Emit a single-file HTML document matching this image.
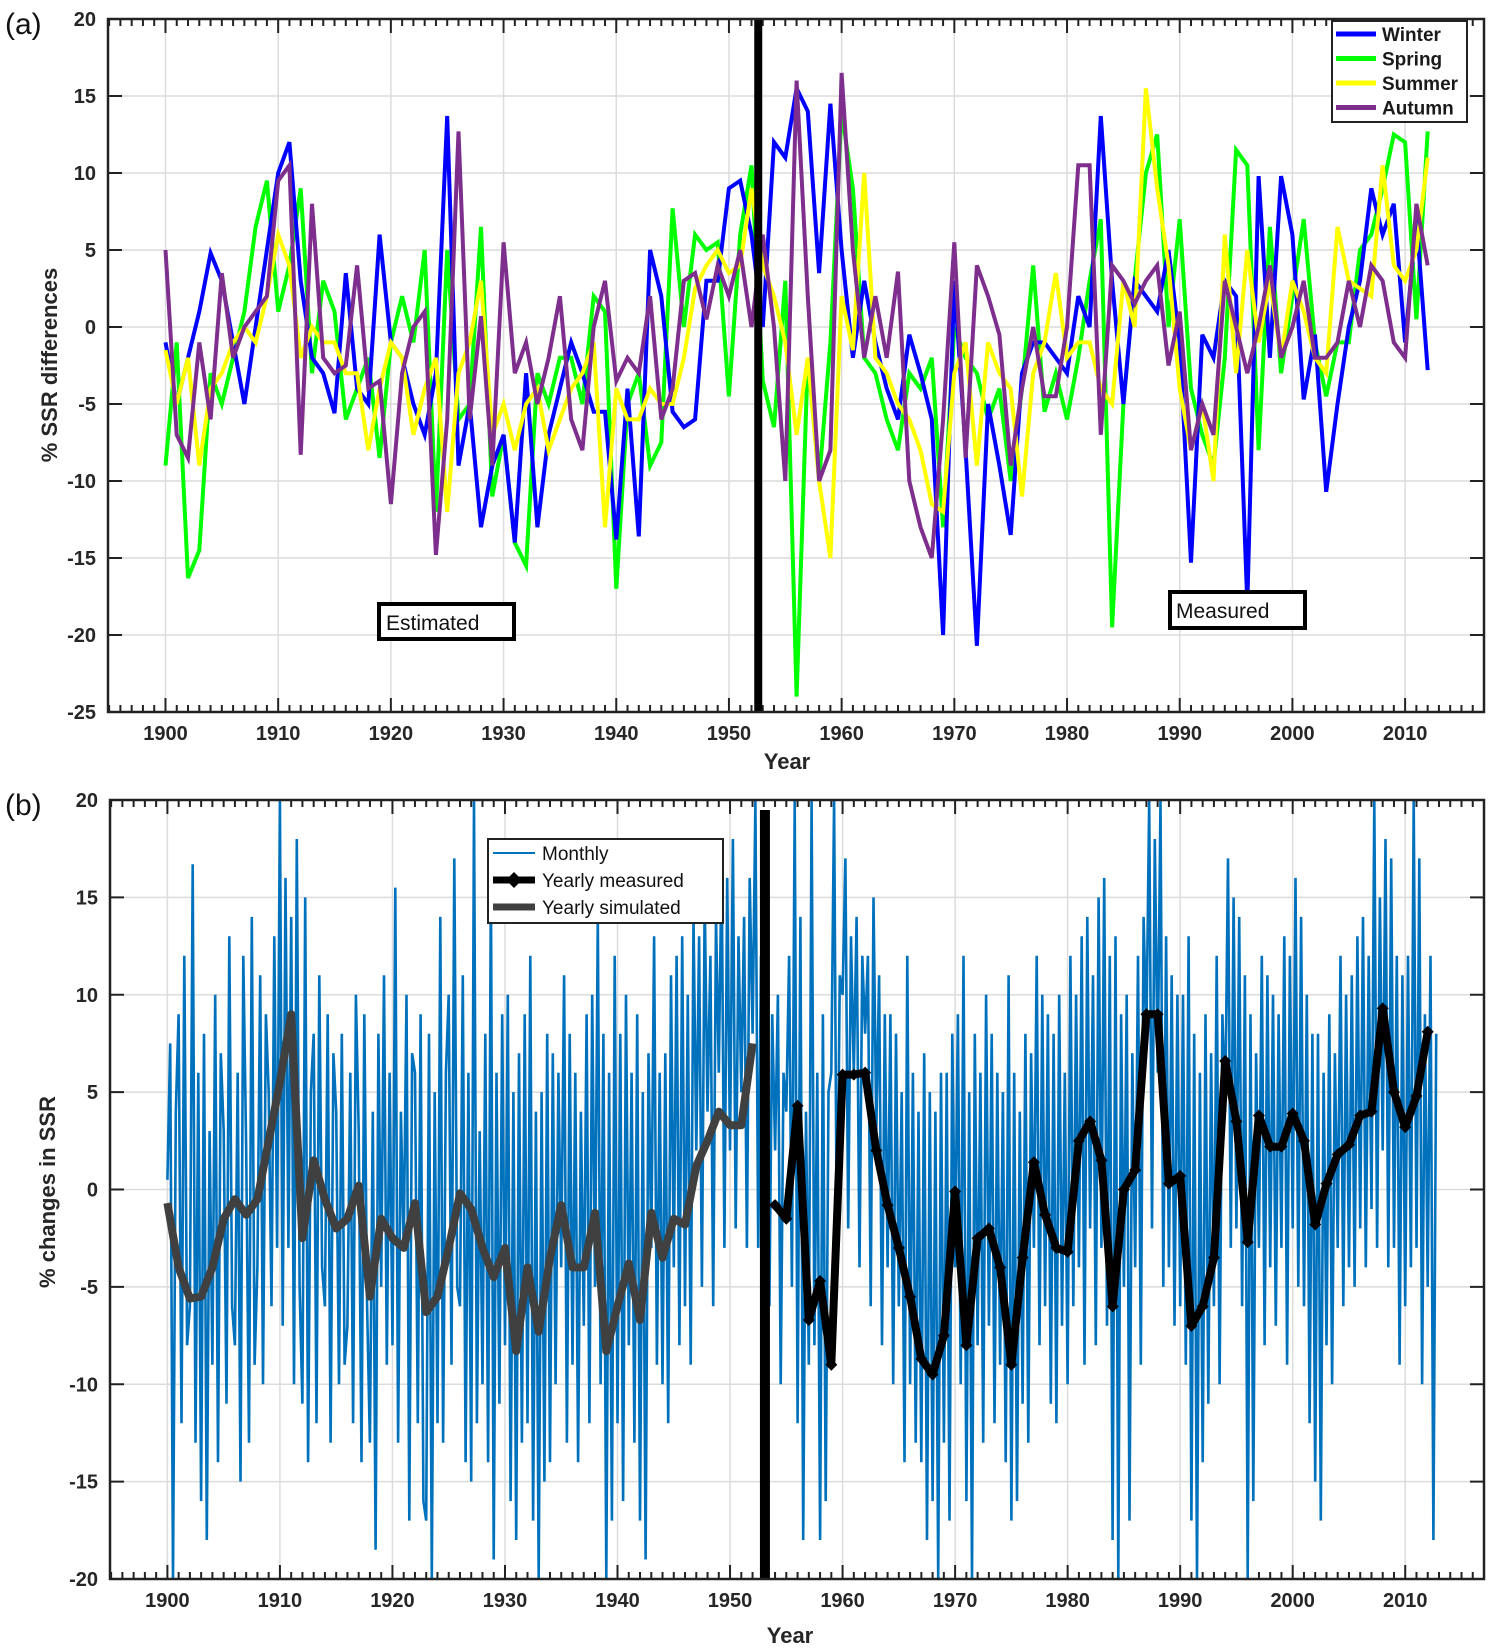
<!DOCTYPE html>
<html><head><meta charset="utf-8"><style>
body{margin:0;background:#fff}
svg{display:block;font-family:"Liberation Sans",Arial,sans-serif}
</style></head><body>
<svg id="c" width="1492" height="1648" viewBox="0 0 1492 1648"></svg>
<script>
// ---------- data ----------
const seasonYears0 = 1900;
const winter = [-1,-5,-2,1,4.8,3,-1,-5,0,5, 10,12,3,-2,-3,-5.6,3.5,-4,-5,6, -1,-2,-5,-7,-3,13.7,-9,-5,-13,-9, -7,-14,-3,-13,-7,-4,-1,-3,-5.5,-5.5, -13.8,-4,-13.6,5,2,-5.5,-6.5,-6,3,3, 9,9.5,6,0,12,11,15.5,14,3.5,14.5, 5,-2,3,-1,-4,-6,-0.5,-3,-6,-20, 3,-8,-20.7,-5,-9,-13.5,-3,-1,-1,-2, -3,2,0,13.7,3,-5,3,2,1,5, -1,-15.3,-0.5,-2,3,2,-18,9.8,-2,9.8, 6,-4.7,-0.5,-10.7,-5,0,3,9,6,8, -1,7,-2.8];
const spring = [-9,-1,-16.3,-14.5,-3,-5,-2,1,6.5,9.5, 1,4,9,-3,3,1,-6,-4,-2,-8.5, -1,2,-1,5,-12,5,-6,-5,6.5,-11, -7,-14,-15.5,-3,-5,-2,-2,-5,2,1, -17,-5,-3,-9,-7.5,7.7,0,6,5,5.5, -4.5,6,10.5,-3.5,-6.5,3,-24,-2,-10,-1, 14,9,-2,-3,-6,-8,-3,-4,-2,-13, 0,-2,-3,-6,-4,-10,-4,4,-5.5,-3, -6,-2,3,7,-19.5,-5,3,10,12.5,0, 7,-4,-7,-9,-2,11.5,10.5,-8,6.5,-3, 2,7,-1,-4.5,-1,-1,5,6,9,12.5, 12,0.5,12.7];
const summer = [-1.5,-5,-2,-9,-4,-3,-1,0,-1,2, 6,4,-2,0,-1,-1,-3,-3,-8,-4, -1,-2,-7,-4,-2,-12,-3,-1,3,-7, -5,-8,-5,-4,-8,-6,-4,-3,-1,-13, -4,-6,-6,-4,-5,-5,-2,2.5,4,5, 3.5,4,9,4,2,-1,-7,-2,-10,-15, 2,-1.5,10,-2,-3,-5,-6,-8,-11.5,-12, -3,-1,-9,-1,-3,-4,-11,-3,-1,3.5, -2,-1,-1,-4,-5,3,0,15.5,9,4, -4,-8,-5,-10,6,-3,5,-1,3,-2, 3,1,-2,-3,6.5,3,2.5,2,10.5,4, 3,5,11];
const autumn = [5,-7,-8.5,-1,-6,3.5,-2,0,1,2, 9.5,10.5,-8.3,8,-2,-3,-2.5,4,-4,-3.5, -11.5,-3,0,1,-14.8,-6,12.7,-6,0.7,-9, 5.5,-3,-1,-5,-2,2,-6,-8,0,3, -3.5,-2,-3,2,-6,-4,3,3.5,0.5,4, 2,5,0,6,0,-10,16,2,-10,-8, 16.5,5,-2,2,-2,3.6,-10,-13,-15,-6, 5.5,-8.5,4,2,-0.5,-9,-4,0,-4.5,-4.5, 0,10.5,10.5,-7,4,3,1.5,3,4,-2.5, 1,-8,-5,-7,3,0,-3,0,4,-2, 0,3,-2,-2,-1,3,0,4,3,-1, -2,8,4];
const simYears0 = 1900;
const yearlySim = [-0.7,-4,-5.6,-5.5,-4,-1.5,-0.5,-1.3,-0.5,2.5, 5.5,9,-2.5,1.5,-0.5,-2,-1.5,0.2,-5.5,-1.5, -2.5,-3,-0.7,-6.3,-5.5,-3,-0.2,-1,-3,-4.5, -3,-8.3,-4,-7.3,-3.5,-0.8,-4,-4,-1.2,-8.3, -6,-3.8,-6.7,-1.2,-3.5,-1.5,-1.8,1.2,2.5,4, 3.3,3.3,7.5];
const measYears0 = 1954;
const yearlyMeas = [-0.8,-1.5,4.3,-6.7,-4.7,-9, 5.9,5.9,6,2,-0.8,-3,-5.5,-8.7,-9.5,-7.5, -0.1,-8,-2.5,-2,-4,-9,-3.5,1.4,-1.3,-3, -3.2,2.5,3.5,1.5,-6,0,1,9,9,0.3, 0.7,-7,-6,-3.5,6.6,3.5,-2.7,3.8,2.2,2.2, 3.9,2.5,-1.8,0.3,1.8,2.3,3.8,4,9.3,5, 3.2,4.8,8.1];
const monthlyStart = 1900, monthlyPerYear = 4;
const monthly = [
0.5,7.5,-20,4, 9,-12,12,-8, -6,16.7,-13,6, -16,8,-18,3, -9,10,-14,7, 3,-11,13,-6, -8,6,-15,12, 2,-13,14,-9, -4,11,-10,9, 5,-6,13,-3,
20,-7,16,-3, 14,-10,18,-5, -11,15,-14,5, 8,-12,11,-4, -6,9,-13,7, 4,-10,8,-9, -7,6,-12,10, 3,-14,9,-6, -13,4,-18.5,8, -5,11,-9,6,
-8,15.5,-13,4, -3,10,-17,7, 6,-12,9,-16, -17,8,-20,5, -12,14,-13,6, 10,-9,17,-5, -6,11,-14,6, -15,20,-12,3, -10,8,-14,16, -19,6,-11,9,
-8,10,-16,5, -18,7,-13,9, -12,12,-17,4, -20,5,-15,8, -14,7,-10,6, -4,11,-13,8, -9,6,-14,4, -7,9,-12,10, -5,14,-10,8, -20,6,-17,12,
-12,8,-16,10, -8,6,-13,9, -17,5,-19,7, -3,13,-9,6, -10,7,-12,11, -4,12,-8,13, -6,10,-9,14, 2,13,-5,15, 4,12,-6,14, 6,17,-3,16,
2,18,-2,13, 5,14,-3,16, 8,20,-3,12, 5,11,-6,9, 2,10,-10,6, 4,12,-5,20, -12,14,-18,4, -9,20,-8,6, -18,9,-16,5, 6,20,-4,11,
10,17,-2,13, 6,14,-4,12, 8,12,-6,15, 3,11,-8,9, -4,9,-10,8, -6,5,-14,12, -10,6,-13,4, -14,7,-18,5, -16,4,-20,6, -13,6,-17,8,
-4,9,-10,12, -16,5,-20,8, -8,6,-13,10, -7,8,-12,6, -9,5,-14,11, -17,6,-16,4, -11,8,-13,7, -3,12,-8,10, -6,9,-11,8, -12,10,-7,6,
-10,12,-6,10, -4,13,-9,14, -2,11,-8,15, -3,16,-7,12, -18,13,-20,9, -5,10,-17,7, -4,12,-9,14, 8,20,-2,18, 6,20,-5,13, -4,11,-7,10,
-6,10,-9,13, -17,8,-20,6, -14,9,-11,7, -6,12,-10,9, 4,17,-3,15, -2,14,-6,11, -20,9,-16,7, -3,12,-8,11, -4,10,-7,9, -3,13,-9,12,
-2,16,-5,14, -6,10,-12,8, -15,8,-17,6, -8,9,-10,7, -3,12,-6,10, -4,11,-5,13, -2,14,-4,12, -1,20,-3,15, 2,18,-4,17, -3,12,-9,11,
-6,12,-4,20, -3,17,-10,9, -5,12,-18,8
];
// ---------- helpers ----------
const svg=document.getElementById('c');
const NS='http://www.w3.org/2000/svg';
function mk(tag,attrs,parent){const e=document.createElementNS(NS,tag);for(const k in attrs)e.setAttribute(k,attrs[k]);(parent||svg).appendChild(e);return e;}
function txt(s,attrs,parent){const e=mk('text',attrs,parent);e.textContent=s;return e;}

function makeAxes(P,name){
  const g=mk('g',{});
  
  
  const X=y=>P.l+(y-P.x0)/(P.x1-P.x0)*(P.r-P.l);
  const Y=v=>P.b-(v-P.y0)/(P.y1-P.y0)*(P.b-P.t);
  for(let yr=1900;yr<=2010;yr+=10){mk('line',{x1:X(yr),x2:X(yr),y1:P.t,y2:P.b,stroke:'#dcdcdc','stroke-width':1.5},g);}
  for(let v=P.y0;v<=P.y1;v+=5){mk('line',{x1:P.l,x2:P.r,y1:Y(v),y2:Y(v),stroke:'#dcdcdc','stroke-width':1.5},g);}
  for(let yr=1895;yr<=2016;yr++){const x=X(yr);const L=(yr%10===0)?14:7;
    mk('line',{x1:x,x2:x,y1:P.b,y2:P.b-L,stroke:'#222','stroke-width':2},g);
    mk('line',{x1:x,x2:x,y1:P.t,y2:P.t+L,stroke:'#222','stroke-width':2},g);}
  const xt=mk('g',{},g);
  
  
  for(let yr=1900;yr<=2010;yr+=10){txt(String(yr),{x:X(yr),y:P.b+28,'text-anchor':'middle','font-size':20,'font-weight':'bold',fill:'#262626'},xt);}
  const yt=mk('g',{},g);
  
  
  for(let v=P.y0;v<=P.y1;v+=5){const y=Y(v);
    mk('line',{x1:P.l,x2:P.l+14,y1:y,y2:y,stroke:'#222','stroke-width':2},g);
    mk('line',{x1:P.r,x2:P.r-14,y1:y,y2:y,stroke:'#222','stroke-width':2},g);
    txt(String(v),{x:P.l-12,y:y+7,'text-anchor':'end','font-size':20,'font-weight':'bold',fill:'#262626'},yt);}
  return {g,X,Y};
}
function poly(vals,x0,X,Y){return vals.map((v,i)=>X(x0+i).toFixed(1)+','+Y(v).toFixed(1)).join(' ');}

// ---------- panel a ----------
const PA={l:108,r:1484,t:19,b:712,x0:1894.9,x1:2017.0,y0:-25,y1:20};
const A=makeAxes(PA,'panel-a-axes');
const clipA=mk('clipPath',{id:'ca'});mk('rect',{x:PA.l,y:PA.t,width:PA.r-PA.l,height:PA.b-PA.t},clipA);
const seriesA=[['winter-line',winter,'#0000ff'],['spring-line',spring,'#00ff00'],['summer-line',summer,'#ffff00'],['autumn-line',autumn,'#7e2f8e']];
const order=[1,0,2,3];
for(const i of order){const s=seriesA[i];
  const el=mk('polyline',{points:poly(s[1],seasonYears0,A.X,A.Y),fill:'none',stroke:s[2],'stroke-width':4,'stroke-linejoin':'miter','clip-path':'url(#ca)'});
  
  }
const divA=mk('line',{x1:A.X(1952.6),x2:A.X(1952.6),y1:PA.t,y2:PA.b,stroke:'#000','stroke-width':8});


mk('rect',{x:PA.l,y:PA.t,width:PA.r-PA.l,height:PA.b-PA.t,fill:'none',stroke:'#222','stroke-width':2.5});
const legA=mk('g',{});


mk('rect',{x:1332,y:21,width:135,height:101,fill:'#fff',stroke:'#222','stroke-width':2},legA);
seriesA.forEach((s,i)=>{const y=34+i*24.5;
  mk('line',{x1:1336,x2:1376,y1:y,y2:y,stroke:s[2],'stroke-width':5},legA);
  txt(['Winter','Spring','Summer','Autumn'][i],{x:1382,y:y+7,'font-size':19,'font-weight':'bold',fill:'#1a1a1a'},legA);});
const eb=mk('g',{});
mk('rect',{x:379,y:604,width:135,height:35,fill:'#fff',stroke:'#000','stroke-width':4},eb);
txt('Estimated',{x:386,y:630,'font-size':21,fill:'#111'},eb);
const mb=mk('g',{});
mk('rect',{x:1170,y:592,width:135,height:36,fill:'#fff',stroke:'#000','stroke-width':4},mb);
txt('Measured',{x:1176,y:618,'font-size':21,fill:'#111'},mb);
txt('(a)',{x:5,y:34,'font-size':30,fill:'#111',});
txt('Year',{x:787,y:769,'text-anchor':'middle','font-size':22,'font-weight':'bold',fill:'#262626',});
txt('% SSR differences',{x:0,y:0,transform:'translate(57,365) rotate(-90)','text-anchor':'middle','font-size':22,'font-weight':'bold',fill:'#262626',});

// ---------- panel b ----------
const PB={l:110,r:1484,t:800,b:1579,x0:1894.9,x1:2017.0,y0:-20,y1:20};
const B=makeAxes(PB,'panel-b-axes');
const clipB=mk('clipPath',{id:'cb'});mk('rect',{x:PB.l,y:PB.t,width:PB.r-PB.l,height:PB.b-PB.t},clipB);
const mpts=monthly.map((v,i)=>B.X(monthlyStart+i/monthlyPerYear).toFixed(1)+','+B.Y(v).toFixed(1)).join(' ');
const ml=mk('polyline',{points:mpts,fill:'none',stroke:'#0072bd','stroke-width':2.6,'clip-path':'url(#cb)'});


const sl=mk('polyline',{points:poly(yearlySim,simYears0,B.X,B.Y),fill:'none',stroke:'#404040','stroke-width':8,'stroke-linejoin':'round'});


const yl=mk('polyline',{points:poly(yearlyMeas,measYears0,B.X,B.Y),fill:'none',stroke:'#000','stroke-width':8,'stroke-linejoin':'round'});


yearlyMeas.forEach((v,i)=>{const x=B.X(measYears0+i),y=B.Y(v);
  const d=mk('polygon',{points:`${x},${y-6} ${x+6},${y} ${x},${y+6} ${x-6},${y}`,fill:'#000'});
  
  });
const divB=mk('line',{x1:B.X(1953.1),x2:B.X(1953.1),y1:PB.t+10,y2:PB.b,stroke:'#000','stroke-width':10});


mk('rect',{x:PB.l,y:PB.t,width:PB.r-PB.l,height:PB.b-PB.t,fill:'none',stroke:'#222','stroke-width':2.5});
const legB=mk('g',{});


mk('rect',{x:488,y:839,width:235,height:84,fill:'#fff',stroke:'#222','stroke-width':2},legB);
mk('line',{x1:493,x2:535,y1:853,y2:853,stroke:'#0072bd','stroke-width':2},legB);
txt('Monthly',{x:542,y:860,'font-size':19,fill:'#111'},legB);
mk('line',{x1:493,x2:535,y1:880,y2:880,stroke:'#000','stroke-width':7},legB);
mk('polygon',{points:'514,872 522,880 514,888 506,880',fill:'#000'},legB);
txt('Yearly measured',{x:542,y:887,'font-size':19,fill:'#111'},legB);
mk('line',{x1:493,x2:535,y1:907,y2:907,stroke:'#404040','stroke-width':7},legB);
txt('Yearly simulated',{x:542,y:914,'font-size':19,fill:'#111'},legB);
txt('(b)',{x:5,y:815,'font-size':30,fill:'#111',});
txt('Year',{x:790,y:1643,'text-anchor':'middle','font-size':22,'font-weight':'bold',fill:'#262626',});
txt('% changes in SSR',{x:0,y:0,transform:'translate(55,1192) rotate(-90)','text-anchor':'middle','font-size':22,'font-weight':'bold',fill:'#262626',});
</script>
</body></html>
